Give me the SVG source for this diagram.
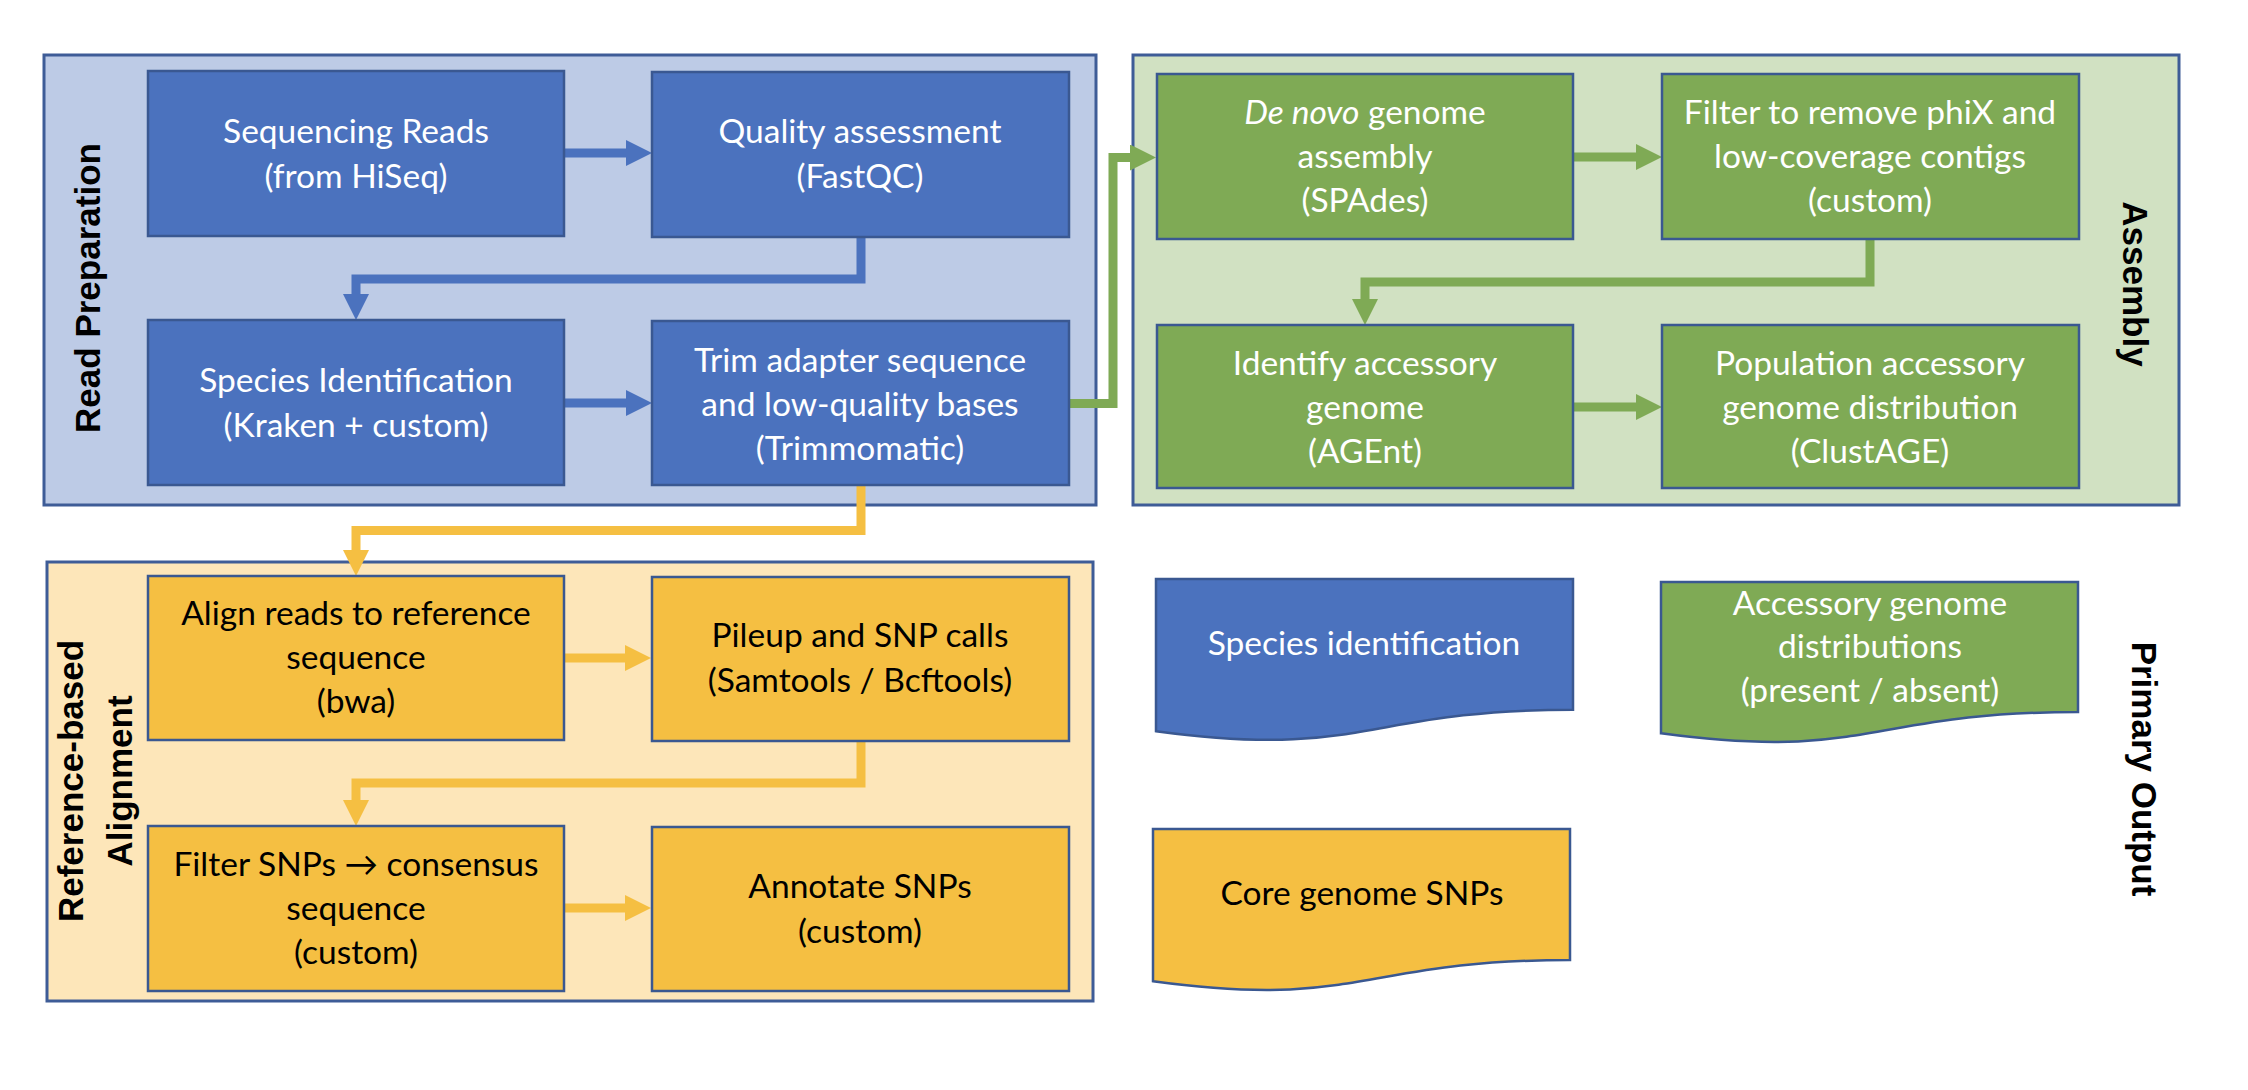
<svg xmlns="http://www.w3.org/2000/svg" width="2248" height="1090" viewBox="0 0 2248 1090">
<style>
.panel{stroke:#3E5C97;stroke-width:3}
.box{stroke:#3A5891;stroke-width:2.5}
.blue{fill:#4B72BE}
.green{fill:#7FAA55}
.yellow{fill:#F5BF42}
.t{font-family:Lato,"Open Sans",sans-serif;font-size:33.5px;text-anchor:middle}
.w{fill:#FFFFFF}
.k{fill:#000000}
.title{font-family:"Liberation Sans",Arial,sans-serif;font-size:35px;font-weight:bold;text-anchor:middle;fill:#000}
.c{fill:none;stroke-width:9;stroke-linejoin:miter}
</style>
<defs>
<marker id="ab" markerUnits="userSpaceOnUse" markerWidth="27" markerHeight="27" refX="1" refY="13" orient="auto"><path d="M0,0 L26,13 L0,26 Z" fill="#4B72BE"/></marker>
<marker id="ag" markerUnits="userSpaceOnUse" markerWidth="27" markerHeight="27" refX="1" refY="13" orient="auto"><path d="M0,0 L26,13 L0,26 Z" fill="#7FAA55"/></marker>
<marker id="ay" markerUnits="userSpaceOnUse" markerWidth="27" markerHeight="27" refX="1" refY="13" orient="auto"><path d="M0,0 L26,13 L0,26 Z" fill="#F5BF42"/></marker>
</defs>
<rect width="2248" height="1090" fill="#FFFFFF"/>
<g id="panel-read-preparation">
<rect class="panel" x="44" y="55" width="1052" height="450" fill="#BDCBE6"/>
<text class="title" transform="translate(100,288) rotate(-90)">Read Preparation</text>
</g>
<g id="panel-assembly">
<rect class="panel" x="1133" y="55" width="1046" height="450" fill="#D1E1C2"/>
<text class="title" transform="translate(2123,284) rotate(90)">Assembly</text>
</g>
<g id="panel-alignment">
<rect class="panel" x="47" y="562" width="1046" height="439" fill="#FDE6B9"/>
<text class="title" transform="translate(83,781) rotate(-90)">Reference-based</text>
<text class="title" transform="translate(132,781) rotate(-90)">Alignment</text>
</g>
<g id="label-primary-output">
<text class="title" transform="translate(2132,769) rotate(90)">Primary Output</text>
</g>
<g id="connectors">
<path class="c" stroke="#4B72BE" marker-end="url(#ab)" d="M564,153 H627"/>
<path class="c" stroke="#4B72BE" marker-end="url(#ab)" d="M861,237 V279 H356 V295"/>
<path class="c" stroke="#4B72BE" marker-end="url(#ab)" d="M564,403 H627"/>
<path class="c" stroke="#7FAA55" marker-end="url(#ag)" d="M1069,403.5 H1113 V157.5 H1131"/>
<path class="c" stroke="#7FAA55" marker-end="url(#ag)" d="M1573,157 H1637"/>
<path class="c" stroke="#7FAA55" marker-end="url(#ag)" d="M1870,239 V282 H1365 V300"/>
<path class="c" stroke="#7FAA55" marker-end="url(#ag)" d="M1573,407 H1637"/>
<path class="c" stroke="#F5BF42" marker-end="url(#ay)" d="M861,485 V530.5 H356 V551"/>
<path class="c" stroke="#F5BF42" marker-end="url(#ay)" d="M564,658 H626"/>
<path class="c" stroke="#F5BF42" marker-end="url(#ay)" d="M861,741 V783 H356 V801"/>
<path class="c" stroke="#F5BF42" marker-end="url(#ay)" d="M564,908 H626"/>
</g>
<g id="n-sequencing-reads">
<rect class="box blue" x="148" y="71" width="416" height="165"/>
<text class="t w" x="356" y="143">Sequencing Reads</text>
<text class="t w" x="356" y="188">(from HiSeq)</text>
</g>
<g id="n-quality-assessment">
<rect class="box blue" x="652" y="72" width="417" height="165"/>
<text class="t w" x="860" y="143">Quality assessment</text>
<text class="t w" x="860" y="188">(FastQC)</text>
</g>
<g id="n-species-identification">
<rect class="box blue" x="148" y="320" width="416" height="165"/>
<text class="t w" x="356" y="392">Species Identification</text>
<text class="t w" x="356" y="437">(Kraken + custom)</text>
</g>
<g id="n-trim">
<rect class="box blue" x="652" y="321" width="417" height="164"/>
<text class="t w" x="860" y="372">Trim adapter sequence</text>
<text class="t w" x="860" y="416">and low-quality bases</text>
<text class="t w" x="860" y="460">(Trimmomatic)</text>
</g>
<g id="n-de-novo">
<rect class="box green" x="1157" y="74" width="416" height="165"/>
<text class="t w" x="1365" y="124"><tspan font-style="italic">De novo</tspan> genome</text>
<text class="t w" x="1365" y="168">assembly</text>
<text class="t w" x="1365" y="212">(SPAdes)</text>
</g>
<g id="n-filter-phix">
<rect class="box green" x="1662" y="74" width="417" height="165"/>
<text class="t w" x="1870" y="124">Filter to remove phiX and</text>
<text class="t w" x="1870" y="168">low-coverage contigs</text>
<text class="t w" x="1870" y="212">(custom)</text>
</g>
<g id="n-identify-accessory">
<rect class="box green" x="1157" y="325" width="416" height="163"/>
<text class="t w" x="1365" y="375">Identify accessory</text>
<text class="t w" x="1365" y="419">genome</text>
<text class="t w" x="1365" y="463">(AGEnt)</text>
</g>
<g id="n-population-accessory">
<rect class="box green" x="1662" y="325" width="417" height="163"/>
<text class="t w" x="1870" y="375">Population accessory</text>
<text class="t w" x="1870" y="419">genome distribution</text>
<text class="t w" x="1870" y="463">(ClustAGE)</text>
</g>
<g id="n-align-reads">
<rect class="box yellow" x="148" y="576" width="416" height="164"/>
<text class="t k" x="356" y="625">Align reads to reference</text>
<text class="t k" x="356" y="669">sequence</text>
<text class="t k" x="356" y="713">(bwa)</text>
</g>
<g id="n-pileup">
<rect class="box yellow" x="652" y="577" width="417" height="164"/>
<text class="t k" x="860" y="647">Pileup and SNP calls</text>
<text class="t k" x="860" y="692">(Samtools / Bcftools)</text>
</g>
<g id="n-filter-snps">
<rect class="box yellow" x="148" y="826" width="416" height="165"/>
<text class="t k" x="356" y="876">Filter SNPs → consensus</text>
<text class="t k" x="356" y="920">sequence</text>
<text class="t k" x="356" y="964">(custom)</text>
</g>
<g id="n-annotate-snps">
<rect class="box yellow" x="652" y="827" width="417" height="164"/>
<text class="t k" x="860" y="898">Annotate SNPs</text>
<text class="t k" x="860" y="943">(custom)</text>
</g>
<g id="out-species-identification">
<path class="box blue" d="M1156,579 H1573 V709.7 C1364.5,709.7 1364.5,759.5 1156,731.2 Z"/>
<text class="t w" x="1364" y="655">Species identification</text>
</g>
<g id="out-accessory-genome">
<path class="box green" d="M1661,582 H2078 V712 C1869.5,712 1869.5,761.4 1661,733.3 Z"/>
<text class="t w" x="1870" y="615">Accessory genome</text>
<text class="t w" x="1870" y="658">distributions</text>
<text class="t w" x="1870" y="702">(present / absent)</text>
</g>
<g id="out-core-genome-snps">
<path class="box yellow" d="M1153,829 H1570 V960 C1361.5,960 1361.5,1009.5 1153,981.2 Z"/>
<text class="t k" x="1362" y="905">Core genome SNPs</text>
</g>
</svg>
